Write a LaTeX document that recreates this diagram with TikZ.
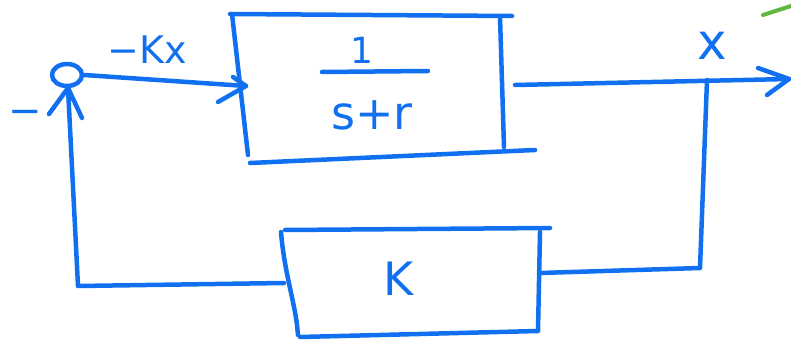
\documentclass[tikz,border=0pt]{standalone}
\usepackage{fontspec}
\setmainfont{DejaVu Sans}
\usetikzlibrary{shapes.geometric}
\definecolor{ink}{RGB}{16,112,240}
\definecolor{mark}{RGB}{96,184,64}
\begin{document}
\begin{tikzpicture}[x=1pt,y=-1pt,
  pen/.style={draw=ink,line width=4.5pt,line cap=round,line join=round},
  lbl/.style={text=ink,inner sep=0pt,font=\fontsize{46}{50}\selectfont}]
\useasboundingbox (0,0) rectangle (791,344);

% summing junction
\node[pen,ellipse,minimum width=30pt,minimum height=22pt,inner sep=0pt] (sum) at (67,75) {};
\node[lbl,font=\fontsize{40}{44}\selectfont] (minus) at (25,117) {−};

% plant block 1/(s+r)
\draw[pen] (230,14) -- (512,16);
\draw[pen] (232,14) -- (248,155);
\draw[pen] (250,163) -- (535,150);
\draw[pen] (500,17) -- (504,147);
\node[lbl,font=\fontsize{36}{40}\selectfont] (num) at (362,50) {1};
\node[lbl] (den) at (372,115) {s+r};
\draw[pen] (322,72) -- (428,71);

% gain block K
\draw[pen] (285,230) -- (550,228);
\draw[pen] (281,232) .. controls (284,270) and (294,300) .. (297,325) -- (298,335);
\draw[pen] (300,337) -- (538,331) -- (540,232);
\node[lbl] (gain) at (399,279) {K};

% forward path
\coordinate (inTip) at (246,86);
\draw[pen] (sum.east) -- (inTip);
\draw[pen] (233,77) -- (inTip) -- (218,102);
\node[lbl,font=\fontsize{38}{42}\selectfont] (ukx) at (147,50) {−Kx};

\coordinate (outStart) at (515,85);
\coordinate (outTip) at (789,79);
\coordinate (branch) at (707,80);
\draw[pen] (outStart) -- (outTip);
\draw[pen] (758,68) -- (outTip) -- (767,95);
\node[lbl,font=\fontsize{50}{54}\selectfont] (xout) at (712,46) {x};

% feedback path
\coordinate (kIn) at (540,273);
\coordinate (kOut) at (284,283);
\coordinate (fbTip) at (68,88);
\draw[pen] (branch) -- (700,268) -- (kIn);
\draw[pen] (kOut) -- (78,286) -- (fbTip);
\draw[pen] (49,114) -- (fbTip) -- (82,118);

% stray pen mark
\draw[draw=mark,line width=4pt,line cap=round] (763,15) -- (791,6);
\end{tikzpicture}
\end{document}
